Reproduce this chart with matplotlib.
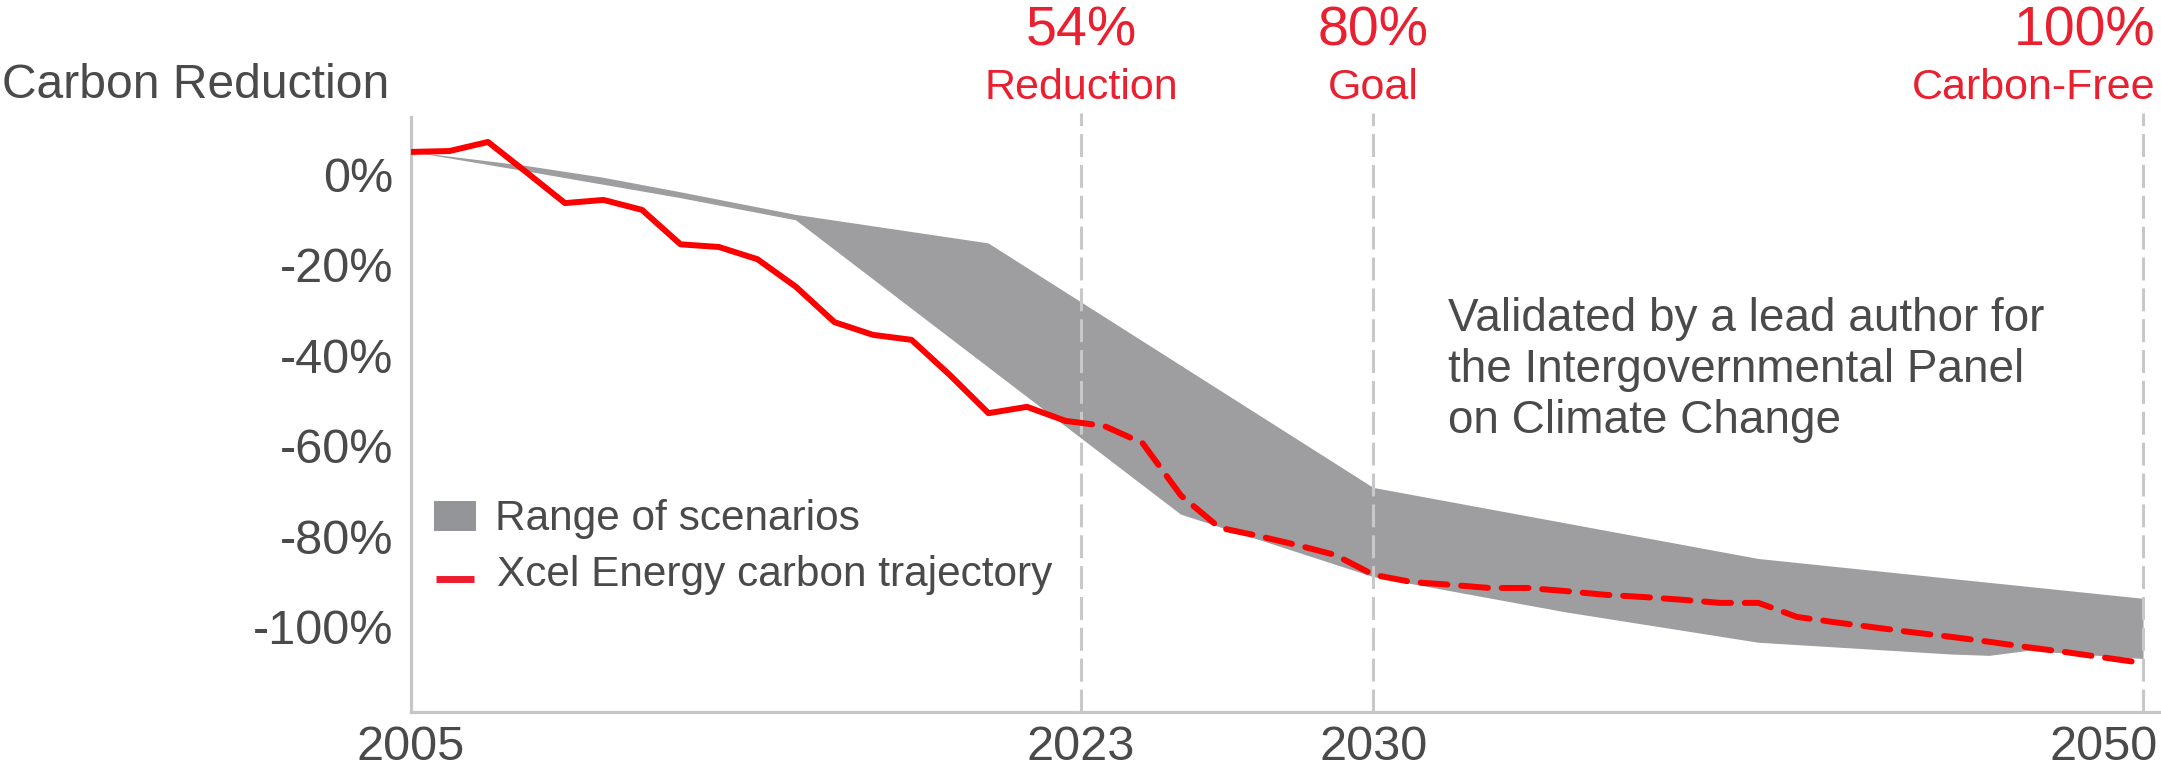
import matplotlib
matplotlib.use("Agg")
import matplotlib.pyplot as plt
import numpy as np
from matplotlib.patches import Rectangle
from matplotlib.lines import Line2D

plt.rcParams['font.family'] = ['Liberation Sans', 'DejaVu Sans']

# ---- data -------------------------------------------------------------
hist_years = list(range(2005, 2023))
hist_values = [4.9, 5.1, 7.1, 0.4, -6.4, -5.7, -7.9, -15.5, -16.1, -18.8,
               -24.9, -32.7, -35.5, -36.6, -44.4, -52.8, -51.4, -54.5]

proj_years = list(range(2022, 2051))
proj_values = [-54.5, -55.6, -59.4, -71.0, -78.1, -79.9, -81.9, -84.1, -88.5,
               -90.1, -90.7, -91.4, -91.4, -92.1, -92.9, -93.4, -94.0, -94.7,
               -94.7, -97.8, -99.0, -100.1, -101.2, -102.2, -103.3, -104.5,
               -105.6, -106.8, -108.0]

range_top_years = [2005, 2008, 2010, 2012, 2015, 2020, 2030, 2040, 2050]
range_top = [4.9, 1.8, -0.8, -4.0, -9.0, -15.3, -69.3, -85.0, -93.8]

range_bottom_years = [2005, 2008, 2012, 2015, 2025, 2030, 2035, 2040, 2045,
                      2046, 2047, 2050]
range_bottom = [4.9, 0.6, -5.3, -10.2, -75.2, -89.0, -96.8, -103.5, -106.1,
                -106.4, -105.3, -107.1]

y_ticks = [0, -20, -40, -60, -80, -100]
y_tick_labels = ["0%", "-20%", "-40%", "-60%", "-80%", "-100%"]

x_tick_pos = [2005, 2022.4, 2030, 2050]
x_tick_labels = ["2005", "2023", "2030", "2050"]

milestone_pos = [2022.4, 2030, 2050]
milestone_big = ["54%", "80%", "100%"]
milestone_small = ["Reduction", "Goal", "Carbon-Free"]

note_lines = ["Validated by a lead author for",
              "the Intergovernmental Panel",
              "on Climate Change"]

legend_labels = ["Range of scenarios", "Xcel Energy carbon trajectory"]

# ---- style ------------------------------------------------------------
W, H = 2161, 767
TEXT = '#4a4a4a'
RED_TEXT = '#e8202f'
RED_LINE = '#fd0000'
BAND = '#9e9ea0'
AXIS = '#c6c6c6'
GUIDE = '#c8c8c8'


def fx(px):
    return px / W


def fy(py):
    return 1 - py / H


fig = plt.figure(figsize=(W / 100, H / 100), dpi=100)
fig.patch.set_facecolor('white')

ax_left, ax_bottom, ax_top = 411, 712, 113
ax = fig.add_axes([fx(ax_left), fy(ax_bottom), 1 - fx(ax_left),
                   (ax_bottom - ax_top) / H])
ax.set_xlim(2005, 2005 + (W - ax_left) / 38.5)
ax.set_ylim(-118.8, 13.5)

# scenario range band
poly_x = np.concatenate([range_top_years, range_bottom_years[::-1]])
poly_y = np.concatenate([range_top, range_bottom[::-1]])
ax.fill(poly_x, poly_y, color=BAND, lw=0, zorder=1)

# milestone guides
for xp in milestone_pos:
    ax.axvline(xp, color=GUIDE, lw=2.2, dashes=(7.5, 2.6), zorder=2)

# carbon trajectory: historical (solid) and planned (dashed)
ax.plot(hist_years, hist_values, color=RED_LINE, lw=4.3,
        solid_joinstyle='round', solid_capstyle='round', zorder=4)
ax.plot(proj_years, proj_values, color=RED_LINE, lw=4.3,
        dashes=(4.5, 2.3), dash_capstyle='round', dash_joinstyle='round',
        zorder=4)

# axes styling
for s in ['top', 'right']:
    ax.spines[s].set_visible(False)
for s in ['left', 'bottom']:
    ax.spines[s].set_color(AXIS)
    ax.spines[s].set_linewidth(2.3)
ax.spines['left'].set_bounds(-118.8, 12.6)

ax.set_yticks(y_ticks)
ax.set_yticklabels(y_tick_labels)
ax.tick_params(axis='y', length=0, pad=12.8, labelsize=35, labelcolor=TEXT)
ax.set_xticks([])

# x tick labels
for pos, lab in zip(x_tick_pos, x_tick_labels):
    if lab == x_tick_labels[-1]:
        ha, dx = 'right', 14
    else:
        ha, dx = 'center', 0
    ax.annotate(lab, xy=(pos, 0), xycoords=('data', 'axes fraction'),
                xytext=(dx, -48), textcoords='offset pixels',
                ha=ha, va='baseline', fontsize=35, color=TEXT,
                annotation_clip=False)

# milestone labels above the plot
for i, (pos, big, small) in enumerate(zip(milestone_pos, milestone_big,
                                          milestone_small)):
    if i == len(milestone_pos) - 1:
        ha, dx = 'right', 12
    else:
        ha, dx = 'center', 0
    ax.annotate(big, xy=(pos, 1), xycoords=('data', 'axes fraction'),
                xytext=(dx, 68), textcoords='offset pixels',
                ha=ha, va='baseline', fontsize=40, color=RED_TEXT,
                annotation_clip=False)
    ax.annotate(small, xy=(pos, 1), xycoords=('data', 'axes fraction'),
                xytext=(dx, 14), textcoords='offset pixels',
                ha=ha, va='baseline', fontsize=31, color=RED_TEXT,
                annotation_clip=False)

# y-axis title
fig.text(fx(2), fy(98), "Carbon Reduction", fontsize=34.6, color=TEXT,
         ha='left', va='baseline')

# validation note
for k, line in enumerate(note_lines):
    fig.text(fx(1448), fy(331 + 51 * k), line, fontsize=33, color=TEXT,
             ha='left', va='baseline')

# legend
fig.patches.append(Rectangle((fx(434), fy(531)), 42 / W, 30 / H,
                             transform=fig.transFigure, color='#939598',
                             lw=0))
fig.add_artist(Line2D([fx(436), fx(474)], [fy(579), fy(579)], lw=5,
                      color='#ee1c2e', solid_capstyle='butt'))
fig.text(fx(495), fy(530), legend_labels[0], fontsize=30.5, color=TEXT,
         ha='left', va='baseline')
fig.text(fx(497), fy(586), legend_labels[1], fontsize=30.5, color=TEXT,
         ha='left', va='baseline')

fig.savefig('out.png', dpi=100, facecolor='white')
